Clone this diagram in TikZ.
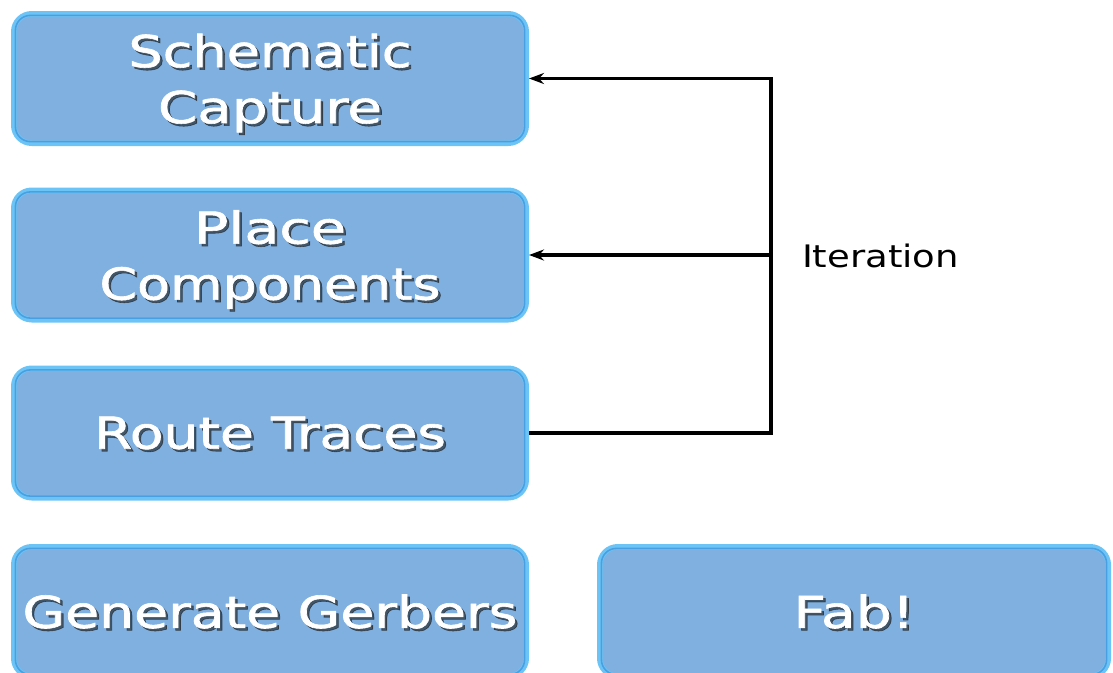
\documentclass[tikz,border=0pt]{standalone}
\usepackage{fontspec}
\setmainfont{DejaVu Sans}
\newfontfamily\boxfont{DejaVu Sans}[FakeBold=1.3]
\usetikzlibrary{arrows.meta}
\definecolor{boxfill}{RGB}{127,176,224}
\definecolor{boxedge}{RGB}{108,196,246}
\definecolor{boxinner}{RGB}{72,160,226}
\newcommand{\fitw}[2]{\resizebox{#1pt}{\height}{#2}}
\begin{document}
\begin{tikzpicture}[x=1pt,y=-1pt,
  box/.style={rectangle, draw=boxedge, fill=boxfill, line width=5.5pt,
    rounded corners=18pt, minimum width=512.5pt, minimum height=129.5pt, inner sep=0pt},
  innerline/.style={draw=boxinner, line width=1.6pt, rounded corners=15pt},
  lbl/.style={text=white, align=center, inner sep=0pt,
    font=\boxfont\fontsize{44}{56}\selectfont},
  shd/.style={text=black!90, opacity=0.6, align=center, inner sep=0pt,
    font=\boxfont\fontsize{44}{56}\selectfont},
  conn/.style={draw=black, line width=3.6pt},
  tip/.style={-{Stealth[length=15pt,width=11pt,inset=5pt]}}
]
\useasboundingbox (0,0) rectangle (1113,672);
\clip (0,0) rectangle (1113,672);
\fill[white] (0,0) rectangle (1113,672);

% boxes
\node[box] (b1) at (270,78.5) {};
\node[box] (b2) at (270,255) {};
\node[box] (b3) at (270,433) {};
\node[box] (b4) at (270,611.5) {};
\node[box, minimum width=508.5pt] (b5) at (854,611.5) {};

\foreach \b in {b1,b2,b3,b4,b5}{
  \draw[innerline] ([shift={(4.4,4.4)}]\b.north west) rectangle ([shift={(-4.4,-4.4)}]\b.south east);
}

% texts with shadows
\node[shd] (s1) at ([shift={(2.5,7)}]b1.center) {\fitw{283}{Schematic}\\\fitw{224}{Capture}};
\node[lbl] (t1) at ([shift={(0,4.5)}]b1.center) {\fitw{283}{Schematic}\\\fitw{224}{Capture}};

\node[shd] (s2) at ([shift={(2.5,7)}]b2.center) {\fitw{152}{Place}\\\fitw{341}{Components}};
\node[lbl] (t2) at ([shift={(0,4.5)}]b2.center) {\fitw{152}{Place}\\\fitw{341}{Components}};

\node[shd] (s3) at ([shift={(2.5,2.5)}]b3.center) {\fitw{352}{Route Traces}};
\node[lbl] (t3) at (b3.center) {\fitw{352}{Route Traces}};

\node[shd] (s4) at ([shift={(2.5,2.5)}]b4.center) {\fitw{495}{Generate Gerbers}};
\node[lbl] (t4) at (b4.center) {\fitw{495}{Generate Gerbers}};

\node[shd] (s5) at ([shift={(2.5,2.5)}]b5.center) {\fitw{121}{Fab!}};
\node[lbl] (t5) at (b5.center) {\fitw{121}{Fab!}};

% iteration connectors
\coordinate (jx) at (771,0);
\draw[conn,tip] (b3.east) -- (b3.east -| jx) -- (b1.east -| jx) -- (b1.east);
\draw[conn,tip] (b2.east -| jx) -- (b2.east);

\node[inner sep=0pt, font=\fontsize{31}{36}\selectfont] (it) at (880.5,256) {\fitw{157}{Iteration}};
\end{tikzpicture}
\end{document}
